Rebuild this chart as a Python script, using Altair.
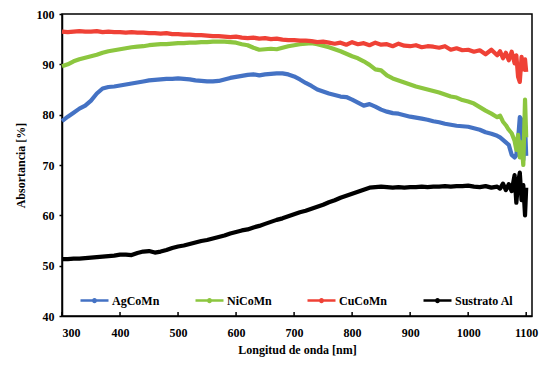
import altair as alt
import pandas as pd

wavelength = list(range(300, 1051, 10)) + [1055, 1060, 1065, 1070, 1075, 1080, 1083, 1086, 1089, 1092, 1095, 1098, 1100]

ag_co_mn = [
    78.7, 79.6, 80.4, 81.2, 81.8, 82.8, 84.2, 85.2, 85.5, 85.6, 85.8, 86.0, 86.2, 86.4, 86.6, 86.8,
    86.9, 87.0, 87.1, 87.1, 87.2, 87.1, 87.0, 86.8, 86.7, 86.6, 86.6, 86.7, 87.0, 87.3, 87.5,
    87.7, 87.9, 88.0, 87.8, 88.0, 88.1, 88.2, 88.2, 88.0, 87.6, 87.0, 86.3, 85.7, 85.0, 84.6,
    84.2, 83.9, 83.6, 83.5, 83.0, 82.4, 81.8, 82.1, 81.6, 81.0, 80.6, 80.3, 80.2, 79.9, 79.6,
    79.4, 79.2, 79.0, 78.7, 78.5, 78.2, 78.0, 77.8, 77.7, 77.6, 77.3, 77.0, 76.5, 76.2, 75.8,
    75.5, 75.0, 74.5, 74.0, 72.0, 71.5, 72.0, 75.0, 79.5, 79.0, 71.0, 78.0, 71.8,
]

ni_co_mn = [
    89.6, 90.0, 90.6, 91.0, 91.3, 91.6, 91.9, 92.3, 92.6, 92.8, 93.0, 93.2, 93.4, 93.5, 93.6, 93.8,
    93.9, 94.0, 94.0, 94.1, 94.2, 94.2, 94.3, 94.3, 94.4, 94.4, 94.5, 94.5, 94.5, 94.4, 94.3,
    94.0, 93.8, 93.3, 92.9, 93.0, 93.1, 93.0, 93.3, 93.6, 93.8, 94.0, 94.1, 94.2, 94.0, 93.7,
    93.4, 93.0, 92.6, 92.1, 91.6, 91.2, 90.6, 89.9, 89.0, 88.8, 87.8, 87.2, 86.8, 86.4, 86.0,
    85.6, 85.3, 85.0, 84.7, 84.4, 84.0, 83.6, 83.4, 82.9, 82.6, 82.2, 81.5, 80.8, 80.2, 79.5,
    79.8, 78.6, 77.9, 77.0, 76.3, 74.8, 73.0, 76.0, 71.5, 74.5, 70.0, 83.0, 75.5,
]

cu_co_mn = [
    96.5, 96.4, 96.5, 96.6, 96.5, 96.5, 96.6, 96.4, 96.5, 96.4, 96.4, 96.3, 96.4, 96.3, 96.3, 96.2,
    96.2, 96.1, 96.2, 96.0, 96.0, 95.9, 95.9, 95.8, 95.8, 95.7, 95.6, 95.6, 95.5, 95.4, 95.5,
    95.3, 95.2, 95.3, 95.1, 95.2, 95.0, 95.1, 94.9, 94.8, 94.8, 94.7, 94.7, 94.6, 94.4, 94.5,
    94.3, 94.1, 94.3, 93.9, 94.4, 94.0, 94.2, 93.8, 94.3, 93.9, 94.0, 93.6, 94.1, 93.7, 93.6,
    93.8, 93.4, 93.6, 93.5, 93.3, 93.6, 92.9, 93.2, 92.8, 92.9, 92.5, 92.8, 92.0, 92.9, 91.8,
    92.6, 91.2, 92.3, 90.8, 92.5, 90.2, 91.8, 87.5, 86.5, 91.5, 89.0, 91.0, 88.5,
]

sustrato_al = [
    51.3, 51.3, 51.4, 51.4, 51.5, 51.6, 51.7, 51.8, 51.9, 52.0, 52.2, 52.2, 52.1, 52.5, 52.8, 52.9,
    52.6, 52.8, 53.1, 53.5, 53.8, 54.0, 54.3, 54.6, 54.9, 55.1, 55.4, 55.7, 56.0, 56.4, 56.7,
    57.0, 57.2, 57.6, 57.9, 58.3, 58.7, 59.1, 59.4, 59.8, 60.2, 60.6, 60.9, 61.3, 61.7, 62.1,
    62.6, 63.0, 63.5, 63.9, 64.3, 64.7, 65.1, 65.5, 65.6, 65.7, 65.6, 65.5, 65.6, 65.5, 65.6,
    65.6, 65.7, 65.6, 65.7, 65.7, 65.8, 65.7, 65.8, 65.8, 65.9, 65.7, 65.6, 65.8, 65.5, 65.7,
    65.3, 66.3, 65.0, 66.2, 64.8, 68.0, 62.5, 66.5, 68.5, 63.0, 66.0, 60.0, 65.5,
]

series_names = ["AgCoMn", "NiCoMn", "CuCoMn", "Sustrato Al"]
series_colors = ["#4472C4", "#8CC63F", "#EF4136", "#000000"]
x_ticks = [300, 400, 500, 600, 700, 800, 900, 1000, 1100]
y_ticks = [40, 50, 60, 70, 80, 90, 100]

rows = []
for name, vals in zip(series_names, [ag_co_mn, ni_co_mn, cu_co_mn, sustrato_al]):
    for w, v in zip(wavelength, vals):
        rows.append({"Longitud": w, "Absortancia": v, "Serie": name})
df = pd.DataFrame(rows)

x_scale = alt.Scale(domain=[300, 1110], nice=False, zero=False)
y_scale = alt.Scale(domain=[40, 100], nice=False, zero=False)
FONT = "Liberation Serif"

# legend symbol: a short line with a small dot in the middle
legend_symbol = "M-1,0L1,0M-0.09,0A0.09,0.09 0 1,0 0.09,0A0.09,0.09 0 1,0 -0.09,0Z"

PLOT_W = 470
PLOT_H = 302

lines = alt.Chart(df).mark_line(strokeWidth=4.2, strokeJoin="round").encode(
    x=alt.X("Longitud:Q", scale=x_scale,
            axis=alt.Axis(values=x_ticks, title="Longitud de onda [nm]", tickSize=0, format="d",
                          labelPadding=11, titlePadding=6, grid=False)),
    y=alt.Y("Absortancia:Q", scale=y_scale,
            axis=alt.Axis(values=y_ticks, title="Absortancia [%]", tickSize=3, format="d",
                          labelPadding=5, titlePadding=9, grid=False)),
    color=alt.Color("Serie:N", scale=alt.Scale(domain=series_names, range=series_colors),
                    legend=alt.Legend(title=None, orient="none", direction="horizontal",
                                      columns=4, legendX=17, legendY=PLOT_H - 31,
                                      symbolType=legend_symbol, symbolSize=784,
                                      symbolStrokeWidth=2.5, labelOffset=2,
                                      columnPadding=30, padding=0,
                                      labelFont=FONT, labelFontSize=12,
                                      labelFontWeight="bold", labelColor="black")),
)

ticks = alt.Chart(pd.DataFrame({"Longitud": x_ticks})).mark_rule(
    color="black", strokeWidth=1.5).encode(
    x=alt.X("Longitud:Q", scale=x_scale),
    y=alt.value(PLOT_H - 4), y2=alt.value(PLOT_H),
)

chart = alt.layer(lines, ticks).properties(
    width=PLOT_W, height=PLOT_H,
    padding={"left": 54, "top": 6, "right": 7, "bottom": 43},
    autosize=alt.AutoSizeParams(type="none"),
).configure_view(
    stroke="black", strokeWidth=1.5
).configure_axis(
    labelFont=FONT, labelFontSize=12, labelFontWeight="bold", labelColor="black",
    titleFont=FONT, titleFontSize=12, titleFontWeight="bold", titleColor="black",
    domainColor="black", domainWidth=1.5, tickColor="black", tickWidth=1.5,
)

chart.save("out.html", embed_options={"renderer": "svg", "actions": False})
